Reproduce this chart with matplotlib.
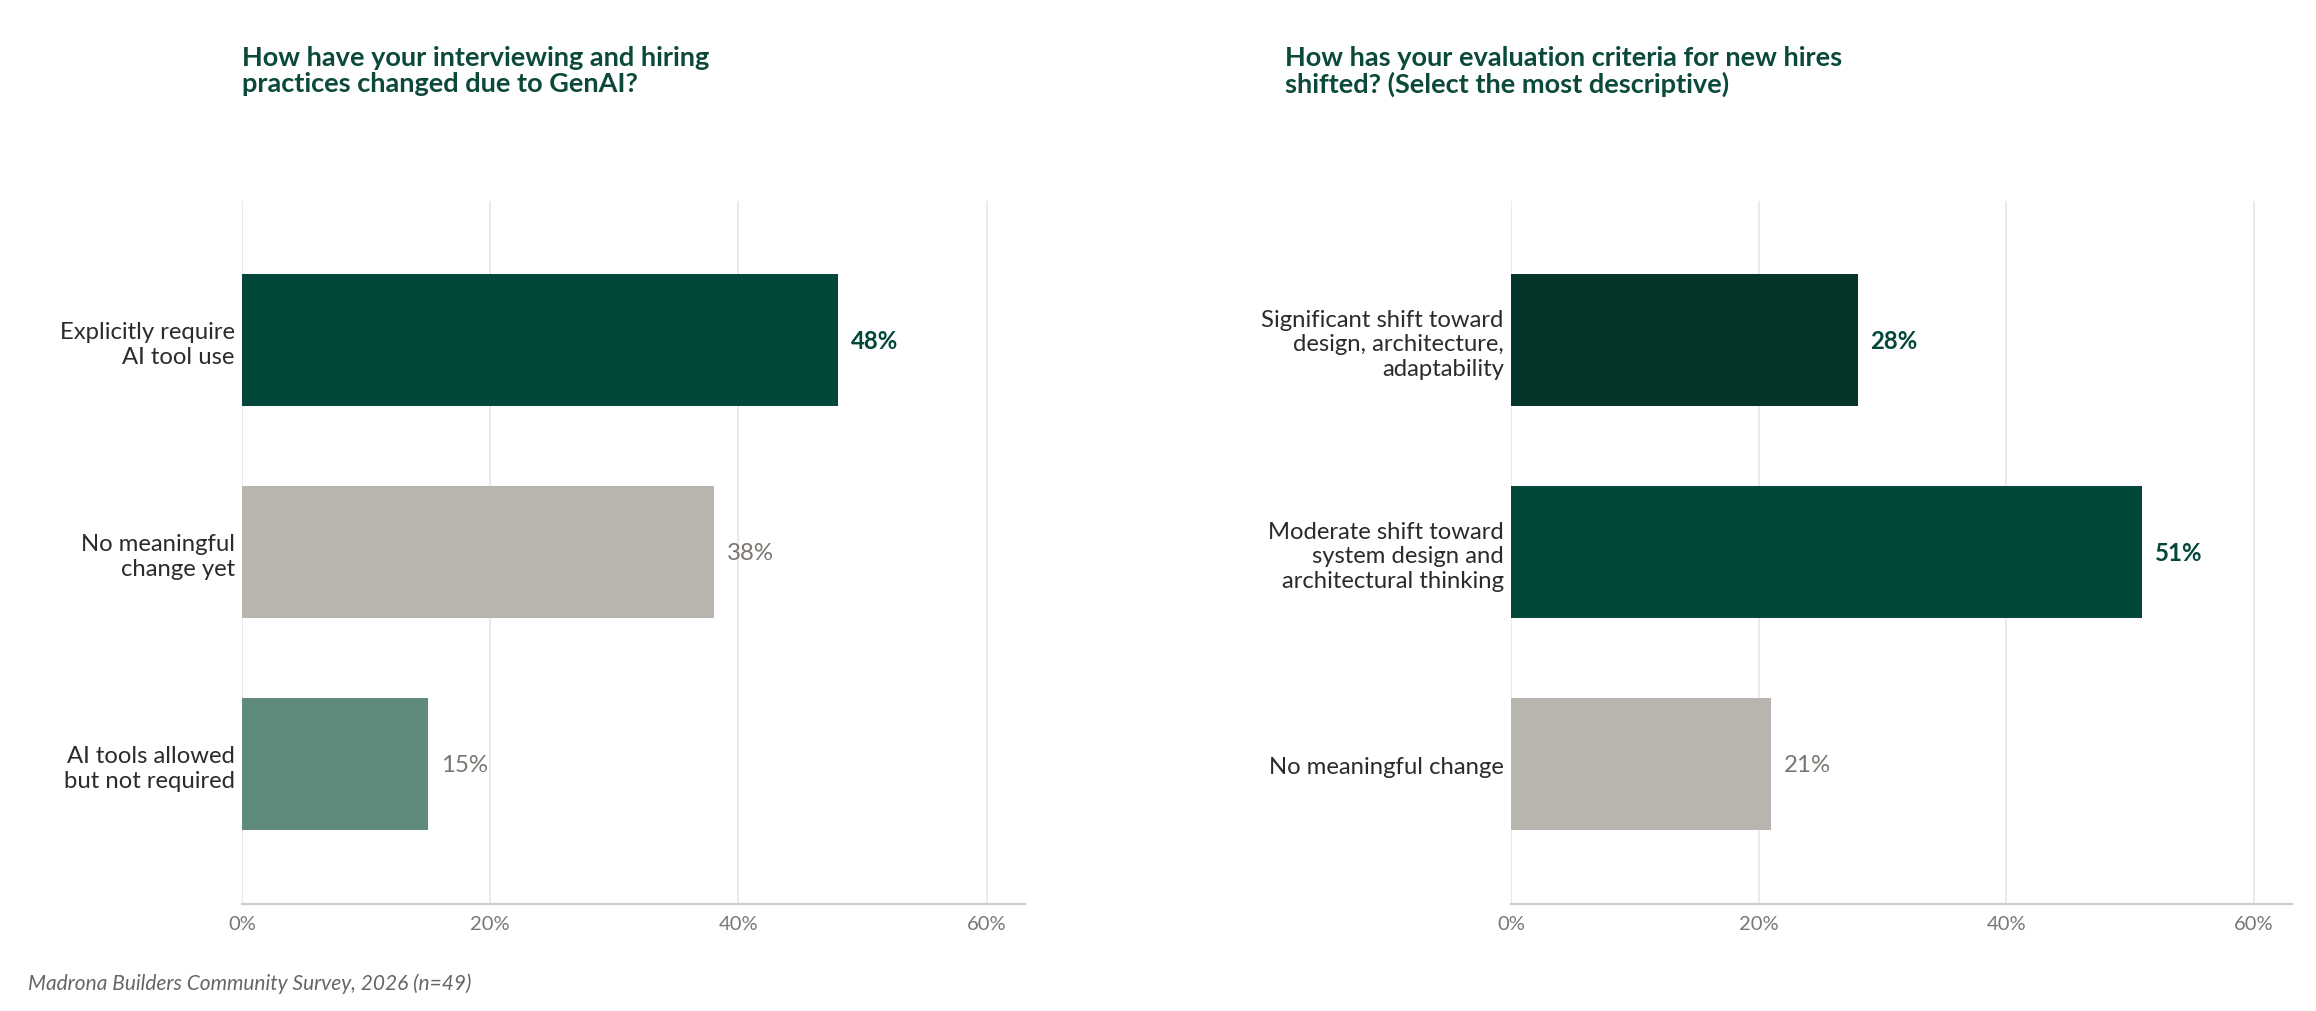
import matplotlib
matplotlib.use("Agg")
import matplotlib.pyplot as plt
from matplotlib.ticker import FuncFormatter
from matplotlib.transforms import offset_copy

plt.rcParams['font.family'] = ['Lato', 'DejaVu Sans']

# ---- data ----
left_title = "How have your interviewing and hiring\npractices changed due to GenAI?"
left_categories = ["Explicitly require\nAI tool use", "No meaningful\nchange yet", "AI tools allowed\nbut not required"]
left_values = [0.48, 0.38, 0.15]
left_colors = ["#03473A", "#B8B5AE", "#5E8B7E"]
left_highlight = [True, False, False]

right_title = "How has your evaluation criteria for new hires\nshifted? (Select the most descriptive)"
right_categories = ["Significant shift toward\ndesign, architecture,\nadaptability",
                    "Moderate shift toward\nsystem design and\narchitectural thinking",
                    "No meaningful change"]
right_values = [0.28, 0.51, 0.21]
right_colors = ["#03352A", "#03473A", "#B8B5AE"]
right_highlight = [True, True, False]

xticks = [0.0, 0.2, 0.4, 0.6]
footnote = "Madrona Builders Community Survey, 2026 (n=49)"

W, H = 2316, 1012
fig = plt.figure(figsize=(W / 100, H / 100), dpi=100)

DARK = "#03473A"
GRAY_LABEL = "#7A756F"


def draw(ax, cats, vals, cols, hl, title, title_x):
    y = list(range(len(cats)))
    ax.barh(y, vals, height=0.623, color=cols, zorder=3)
    ax.set_ylim(len(cats) - 1 + 0.66, -0.656)
    ax.set_xlim(0, 0.631)
    ax.set_yticks(y)
    ax.set_yticklabels(cats, fontsize=17.2, color="#2B2B2B", linespacing=1.22)
    ax.set_xticks(xticks)
    ax.xaxis.set_major_formatter(FuncFormatter(lambda v, p: f"{v*100:.0f}%"))
    ax.tick_params(axis='x', length=0, labelsize=14.5, labelcolor="#777777", pad=8)
    ax.tick_params(axis='y', length=0, pad=5.3)
    for s in ["top", "right", "left"]:
        ax.spines[s].set_visible(False)
    ax.spines["bottom"].set_color("#CCCCCC")
    ax.spines["bottom"].set_linewidth(1.6)
    ax.grid(axis='x', color="#E6E6E6", linewidth=1.2, zorder=0)
    ax.set_axisbelow(True)
    for yi, v, h in zip(y, vals, hl):
        tr = offset_copy(ax.transData, fig=fig, x=13, y=0, units='dots')
        ax.text(v, yi, f"{v*100:.0f}%", transform=tr, va='center', ha='left',
                fontsize=17.3, fontweight='bold' if h else 'normal',
                color=DARK if h else GRAY_LABEL)
    fig.text(title_x, 1 - 46 / H, title, ha='left', va='top', fontsize=19.5,
             fontweight='bold', color="#0B4A3A", linespacing=1.1)


ax1 = fig.add_axes([242 / W, 107 / H, (1025 - 242) / W, (905 - 202) / H])
ax2 = fig.add_axes([1511 / W, 107 / H, (2292 - 1511) / W, (905 - 202) / H])

draw(ax1, left_categories, left_values, left_colors, left_highlight, left_title, 242 / W)
draw(ax2, right_categories, right_values, right_colors, right_highlight, right_title, 1285 / W)

fig.text(28 / W, 1 - 984 / H, footnote, ha='left', va='center', fontsize=15,
         style='italic', color="#666666")

fig.savefig("out.png", dpi=100, facecolor="white")
